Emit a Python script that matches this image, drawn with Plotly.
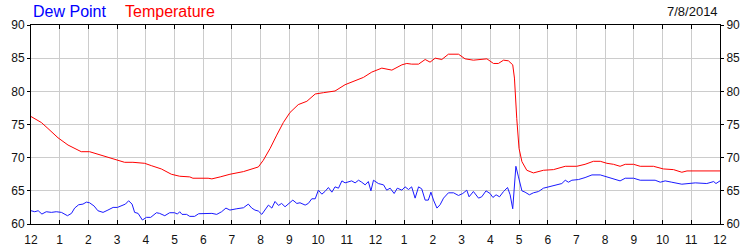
import plotly.graph_objects as go

# Hours since midnight (0..24)
temp_hours = [0, 0.36, 0.59, 0.94, 1.29, 1.52, 1.75, 2.04, 2.33, 2.68, 3.03, 3.26, 3.55, 3.96,
              4.19, 4.54, 4.89, 5.18, 5.53, 5.64, 6.17, 6.30, 6.59, 6.93, 7.40, 7.69, 7.92,
              8.09, 8.33, 8.56, 8.79, 9.02, 9.31, 9.61, 9.90, 10.19, 10.59, 10.94, 11.23,
              11.58, 11.87, 12.16, 12.22, 12.57, 12.92, 13.09, 13.26, 13.50, 13.73, 13.90,
              14.08, 14.31, 14.54, 14.89, 15.12, 15.41, 15.88, 16.11, 16.28, 16.46, 16.63,
              16.78, 16.84, 16.92, 17.00, 17.10, 17.27, 17.50, 17.74, 17.85, 18.20, 18.61,
              19.01, 19.30, 19.59, 19.83, 20.06, 20.29, 20.52, 20.70, 20.99, 21.22, 21.68,
              22.03, 22.38, 22.67, 22.85, 23.14, 23.31, 23.54, 24.0]
temperature = [76.2, 75.3, 74.4, 73.0, 71.9, 71.4, 70.9, 70.9, 70.5, 70.0, 69.6, 69.3, 69.3, 69.15,
               68.8, 68.3, 67.5, 67.2, 67.1, 66.9, 66.9, 66.8, 67.1, 67.5, 67.9, 68.3, 68.6,
               69.6, 71.4, 73.4, 75.3, 76.8, 78.0, 78.5, 79.6, 79.8, 80.05, 81.0, 81.5,
               82.1, 82.9, 83.3, 83.5, 83.2, 84.0, 84.2, 84.1, 84.1, 84.8, 84.4,
               85.0, 84.8, 85.6, 85.6, 84.9, 84.7, 84.9, 84.2, 84.2, 84.7, 84.6,
               84.0, 82.0, 75.9, 71.4, 69.4, 68.1, 67.7, 67.9, 68.1, 68.2, 68.7,
               68.7, 69.0, 69.45, 69.45, 69.15, 69.0, 68.7, 69.0, 69.0, 68.7, 68.7,
               68.3, 68.2, 67.8, 68.0, 68.0, 68.1, 68.0, 68.0]

dew_hours = [0, 0.13, 0.25, 0.38, 0.53, 0.71, 0.88, 1.06, 1.27, 1.41, 1.52, 1.66, 1.81, 1.93,
             2.04, 2.20, 2.33, 2.51, 2.68, 2.86, 3.01, 3.15, 3.29, 3.40, 3.52, 3.61, 3.73,
             3.88, 4.02, 4.17, 4.37, 4.48, 4.66, 4.83, 5.0, 5.10, 5.18, 5.26, 5.42, 5.53,
             5.70, 5.84, 6.17, 6.30, 6.47, 6.64, 6.79, 6.93, 7.17, 7.40, 7.57, 7.69, 7.80,
             7.92, 8.04, 8.15, 8.27, 8.39, 8.50, 8.62, 8.73, 8.85, 9.02, 9.12, 9.26, 9.37,
             9.55, 9.66, 9.78, 9.90, 10.01, 10.13, 10.24, 10.36, 10.48, 10.59, 10.71, 10.83,
             10.94, 11.06, 11.17, 11.29, 11.41, 11.52, 11.64, 11.75, 11.84, 11.93, 12.10,
             12.28, 12.39, 12.51, 12.65, 12.76, 12.92, 13.03, 13.15, 13.26, 13.38, 13.50,
             13.61, 13.73, 13.84, 13.93, 14.02, 14.14, 14.25, 14.37, 14.54, 14.72, 14.89,
             15.04, 15.18, 15.26, 15.41, 15.59, 15.70, 15.85, 15.99, 16.09, 16.20, 16.32,
             16.46, 16.60, 16.69, 16.78, 16.89, 16.98, 17.10, 17.21, 17.36, 17.50, 17.68,
             17.85, 18.02, 18.32, 18.49, 18.61, 18.72, 18.84, 19.07, 19.30, 19.54, 19.83,
             20.12, 20.29, 20.52, 20.70, 20.99, 21.22, 21.74, 21.92, 22.09, 22.32, 22.67,
             23.14, 23.54, 23.78, 23.86, 24.0]
dew_point = [62.0, 61.85, 62.0, 61.5, 61.85, 61.75, 61.85, 61.75, 61.25, 61.6, 62.4, 62.9, 63.0, 63.3,
             63.2, 62.7, 62.0, 61.75, 62.1, 62.5, 62.5, 62.8, 63.0, 63.5, 63.0, 61.75, 61.6,
             60.6, 61.0, 61.0, 61.7, 61.6, 61.25, 61.7, 61.7, 61.5, 61.85, 61.45, 61.45, 61.15,
             61.15, 61.55, 61.55, 61.6, 61.45, 61.85, 62.4, 62.1, 62.3, 62.45, 63.0, 62.4, 62.1,
             61.95, 61.45, 62.1, 62.85, 62.4, 63.4, 62.8, 63.1, 62.6, 63.2, 63.6, 63.1, 63.2,
             62.85, 63.1, 63.8, 63.8, 65.1, 64.5, 64.9, 65.5, 64.8, 65.6, 65.4, 66.5,
             66.2, 66.4, 66.5, 66.2, 66.6, 66.3, 65.9, 66.4, 65.0, 66.6, 66.1,
             65.9, 65.1, 65.4, 64.6, 65.4, 65.1, 65.6, 65.2, 65.6, 63.9, 65.6,
             65.3, 63.6, 63.6, 64.8, 63.6, 62.4, 62.9, 63.9, 64.7, 64.7, 64.3,
             64.6, 65.1, 64.1, 64.9, 63.9, 64.1, 65.0, 64.6, 64.0, 64.4, 64.1,
             64.9, 65.5, 64.4, 62.3, 68.7, 67.1, 65.0, 64.8, 64.4, 64.7, 64.9,
             65.4, 65.6, 65.9, 66.1, 66.6, 66.3, 66.6, 66.7, 67.0, 67.4, 67.4,
             67.0, 66.8, 66.5, 66.9, 66.9, 66.6, 66.6, 66.3, 66.5, 66.3, 66.0,
             66.2, 66.1, 66.4, 66.1, 66.5]

tick_hours = list(range(25))
tick_labels = ["12", "1", "2", "3", "4", "5", "6", "7", "8", "9", "10", "11",
               "12", "1", "2", "3", "4", "5", "6", "7", "8", "9", "10", "11", "12"]
y_ticks = [60, 65, 70, 75, 80, 85, 90]

FONT = "Liberation Sans, Arial, sans-serif"
GRID = "#cccccc"

fig = go.Figure()
fig.add_trace(go.Scatter(x=temp_hours, y=temperature, mode="lines",
                         line=dict(color="#ff0000", width=1), hoverinfo="skip"))
fig.add_trace(go.Scatter(x=dew_hours, y=dew_point, mode="lines",
                         line=dict(color="#1a1aff", width=1), hoverinfo="skip"))
# invisible trace to enable right axis
fig.add_trace(go.Scatter(x=[0], y=[60], yaxis="y2", mode="markers",
                         marker=dict(opacity=0), hoverinfo="skip"))

fig.update_layout(
    width=750, height=250,
    margin=dict(l=31, r=30, t=25, b=26, autoexpand=False),
    paper_bgcolor="white", plot_bgcolor="white",
    showlegend=False,
    font=dict(family=FONT, size=12, color="#111111"),
    xaxis=dict(range=[0, 24], tickmode="array", tickvals=tick_hours, ticktext=tick_labels,
               showgrid=True, gridcolor=GRID, gridwidth=1,
               showline=True, linecolor="black", linewidth=1, mirror="ticks",
               ticks="inside", ticklen=4, tickcolor="black", zeroline=False,
               ticklabelstandoff=5, automargin=False,
               tickfont=dict(family=FONT, size=12, color="#111111")),
    yaxis=dict(range=[60, 90], tickmode="array", tickvals=y_ticks,
               showgrid=True, gridcolor=GRID, gridwidth=1,
               showline=True, linecolor="black", linewidth=1, mirror=True,
               ticks="outside", ticklen=3, tickcolor="black", zeroline=False,
               automargin=False,
               tickfont=dict(family=FONT, size=12, color="#111111")),
    yaxis2=dict(range=[60, 90], tickmode="array", tickvals=y_ticks, overlaying="y", side="right",
                showgrid=False, showline=False, ticks="outside", ticklen=3, tickcolor="black",
                zeroline=False, automargin=False,
                tickfont=dict(family=FONT, size=12, color="#111111")),
    annotations=[
        dict(text="Dew Point", xref="paper", yref="paper", x=0.0, y=1.068,
             xanchor="left", yanchor="middle", showarrow=False,
             font=dict(family=FONT, size=16, color="#0000ff")),
        dict(text="Temperature", xref="paper", yref="paper", x=0.1335, y=1.068,
             xanchor="left", yanchor="middle", showarrow=False,
             font=dict(family=FONT, size=16, color="#ff0000")),
        dict(text="7/8/2014", xref="paper", yref="paper", x=1.0, y=1.068,
             xanchor="right", yanchor="middle", showarrow=False,
             font=dict(family=FONT, size=13, color="#111111")),
    ],
)

fig.write_html("out.html")
